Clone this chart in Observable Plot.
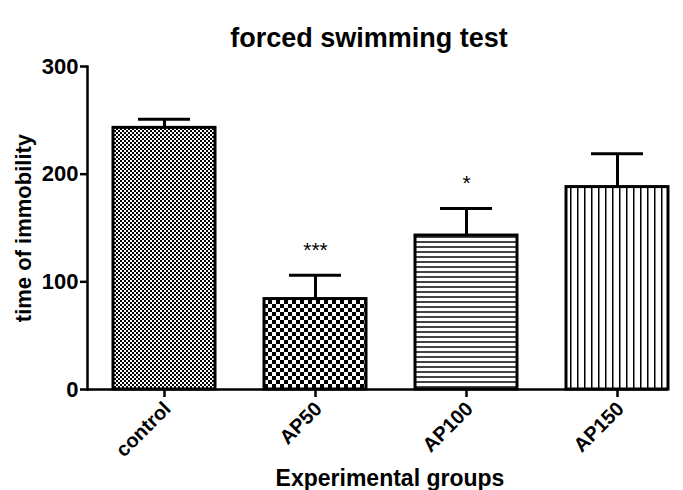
<!DOCTYPE html>
<html>
<head>
<meta charset="utf-8">
<script src="https://cdn.jsdelivr.net/npm/d3@7"></script>
<script src="https://cdn.jsdelivr.net/npm/@observablehq/plot@0.6"></script>
<style>
  html, body { margin: 0; padding: 0; background: #fff; }
  svg { font-family: "Liberation Sans", Arial, sans-serif; }
</style>
</head>
<body>
<div id="chart"></div>
<script>
const groups = ["control", "AP50", "AP100", "AP150"];
const means = [243, 84, 143, 188];
const sems = [8, 22, 25, 31];
const significance = ["", "***", "*", ""];
const yTicks = [0, 100, 200, 300];

const data = groups.map((g, i) => ({group: g, mean: means[i], sem: sems[i], sig: significance[i]}));

function patternDefs() {
  const defs = d3.create("svg:defs");
  // fine checkerboard
  const p0 = defs.append("pattern").attr("id", "pat0").attr("patternUnits", "userSpaceOnUse")
    .attr("width", 4).attr("height", 4);
  p0.append("rect").attr("width", 4).attr("height", 4).attr("fill", "#fff");
  p0.append("rect").attr("width", 2).attr("height", 2).attr("fill", "#000");
  p0.append("rect").attr("x", 2).attr("y", 2).attr("width", 2).attr("height", 2).attr("fill", "#000");
  // coarse checkerboard
  const p1 = defs.append("pattern").attr("id", "pat1").attr("patternUnits", "userSpaceOnUse")
    .attr("width", 8).attr("height", 8);
  p1.append("rect").attr("width", 8).attr("height", 8).attr("fill", "#fff");
  p1.append("rect").attr("width", 4).attr("height", 4).attr("fill", "#000");
  p1.append("rect").attr("x", 4).attr("y", 4).attr("width", 4).attr("height", 4).attr("fill", "#000");
  // horizontal lines
  const p2 = defs.append("pattern").attr("id", "pat2").attr("patternUnits", "userSpaceOnUse")
    .attr("width", 10).attr("height", 5);
  p2.append("rect").attr("width", 10).attr("height", 5).attr("fill", "#fff");
  p2.append("rect").attr("y", 1).attr("width", 10).attr("height", 2).attr("fill", "#444");
  // vertical lines
  const p3 = defs.append("pattern").attr("id", "pat3").attr("patternUnits", "userSpaceOnUse")
    .attr("width", 7).attr("height", 10);
  p3.append("rect").attr("width", 7).attr("height", 10).attr("fill", "#fff");
  p3.append("rect").attr("x", 3).attr("width", 1.5).attr("height", 10).attr("fill", "#000");
  return defs.node();
}

const bars = data.map((d, i) => Plot.barY([d], {
  x: "group", y: "mean", fill: `url(#pat${i})`, stroke: "black", strokeWidth: 3
}));

const chart = Plot.plot({
  width: 683,
  height: 490,
  marginLeft: 87,
  marginRight: 15,
  marginTop: 66,
  marginBottom: 101,
  style: {background: "#fff", color: "#000", overflow: "visible"},
  x: {domain: groups, range: [113, 668], paddingInner: 0.325, paddingOuter: 0, label: null},
  y: {domain: [0, 300], label: null},
  marks: [
    patternDefs,
    Plot.ruleX(data, {x: "group", y1: "mean", y2: d => d.mean + d.sem, strokeWidth: 3}),
    Plot.tickY(data, {x: "group", y: d => d.mean + d.sem, strokeWidth: 3, inset: 25}),
    ...bars,
    Plot.text(data, {x: "group", y: d => d.mean + d.sem, text: "sig", dy: -25, fontSize: 21}),
    Plot.frame({anchor: "left", strokeWidth: 2.5}),
    Plot.ruleY([0], {strokeWidth: 2.5}),
    Plot.axisY({ticks: yTicks, tickSize: 7, tickPadding: 2, fontSize: 22, fontWeight: "bold", strokeWidth: 2.5, label: null}),
    Plot.axisX({tickSize: 8, tickFormat: () => "", strokeWidth: 2.5, label: null}),
    Plot.axisX({tickRotate: -45, tickSize: 0, tickPadding: 16, dx: 3, fontSize: 20, fontWeight: "bold", label: null}),
    Plot.text(["time of immobility"], {frameAnchor: "left", textAnchor: "middle", rotate: -90, dx: -64, fontSize: 22, fontWeight: "bold"}),
    Plot.text(["Experimental groups"], {frameAnchor: "bottom", dx: 12, dy: 96, fontSize: 23, fontWeight: "bold"}),
    Plot.text(["forced swimming test"], {frameAnchor: "top", dx: -9, dy: -39, fontSize: 27, fontWeight: "bold"})
  ]
});
document.getElementById("chart").appendChild(chart);
</script>
</body>
</html>
